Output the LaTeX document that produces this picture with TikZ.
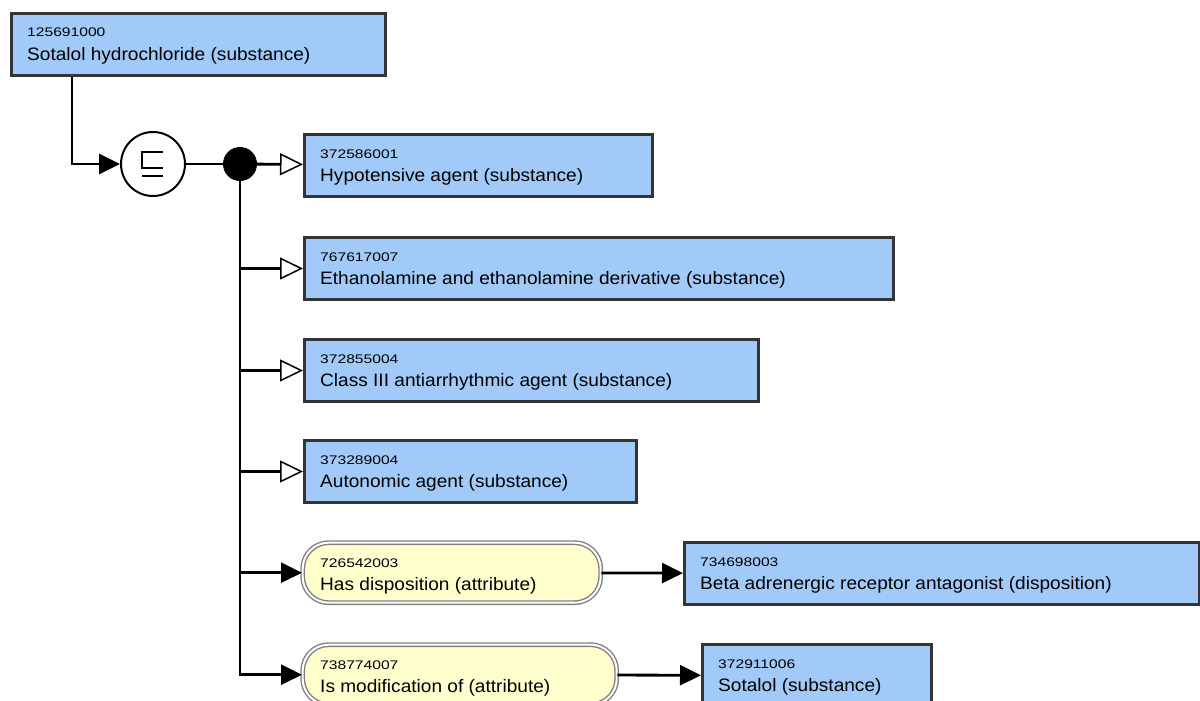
\documentclass[tikz,border=0pt]{standalone}
\usepackage{fontspec}
\setmainfont{Liberation Sans}
\newfontfamily\idfamily[FakeStretch=1.25]{Liberation Sans}
\newfontfamily\namefamily[FakeStretch=1.06]{Liberation Sans}
\usetikzlibrary{arrows.meta,positioning,calc}
\definecolor{ConceptBlue}{RGB}{161,202,248}
\definecolor{AttrYellow}{RGB}{255,255,206}
\definecolor{BoxEdge}{RGB}{52,52,52}
\definecolor{AttrEdge}{RGB}{128,128,128}
\tikzset{
  cbox/.style={rectangle,draw=BoxEdge,line width=3pt,fill=ConceptBlue,
               anchor=north west,minimum height=62pt,inner sep=0pt},
  abox/.style={rectangle,rounded corners=26pt,draw=AttrEdge,line width=1.4pt,
               double=white,double distance=2pt,fill=AttrYellow,
               anchor=north west,minimum height=60pt,inner sep=0pt},
  cid/.style={anchor=base west,inner sep=0pt,xshift=17pt,yshift=-25pt,
              font=\idfamily\fontsize{12.5}{14}\selectfont},
  cname/.style={anchor=base west,inner sep=0pt,xshift=17pt,yshift=-48pt,
                font=\namefamily\fontsize{18}{20}\selectfont},
  link/.style={line width=2.8pt},
  arr/.style={link,-{Triangle[length=21pt,width=20pt]}},
  isa/.style={link,-{Triangle[length=23pt,width=22pt,line width=1.5pt,fill=white]}},
}

\begin{document}
\begin{tikzpicture}[x=1pt,y=-1pt]
  \useasboundingbox (0,0) rectangle (1200,701);
  \clip (0,0) rectangle (1200,701);

  % focus concept
  \node[cbox,minimum width=374pt,
        label={[cid]north west:125691000},
        label={[cname]north west:Sotalol hydrochloride (substance)}] (sotalolhcl) at (10,12) {};

  % definition status and conjunction
  \node[circle,draw,line width=2pt,fill=white,minimum size=64pt,inner sep=0pt] (subs) at (153,164) {};
  \draw[line width=2.2pt] ($(subs)+(10,-12)$) -- ++(-21,0) -- ++(0,16) -- ++(21,0);
  \draw[line width=2.2pt] ($(subs)+(-11,12)$) -- ++(21,0);
  \node[circle,fill=black,minimum size=34pt,inner sep=0pt] (fork) at (240,164) {};

  % parents
  \node[cbox,minimum width=348pt,
        label={[cid]north west:372586001},
        label={[cname]north west:Hypotensive agent (substance)}] (hypo) at (303,133) {};
  \node[cbox,minimum width=589pt,
        label={[cid]north west:767617007},
        label={[cname]north west:Ethanolamine and ethanolamine derivative (substance)}] (ethanol) at (303,236) {};
  \node[cbox,minimum width=454pt,
        label={[cid]north west:372855004},
        label={[cname]north west:Class III antiarrhythmic agent (substance)}] (antiarr) at (303,338) {};
  \node[cbox,minimum width=332pt,
        label={[cid]north west:373289004},
        label={[cname]north west:Autonomic agent (substance)}] (autonomic) at (303,439) {};

  % attributes and values
  \node[abox,minimum width=298pt,
        label={[cid,xshift=1pt]north west:726542003},
        label={[cname,xshift=1pt]north west:Has disposition (attribute)}] (hasdisp) at (302,542) {};
  \node[cbox,minimum width=515pt,
        label={[cid]north west:734698003},
        label={[cname]north west:Beta adrenergic receptor antagonist (disposition)}] (betablock) at (683,541) {};
  \node[abox,minimum width=314pt,
        label={[cid,xshift=1pt]north west:738774007},
        label={[cname,xshift=1pt]north west:Is modification of (attribute)}] (ismod) at (302,644) {};
  \node[cbox,minimum width=229pt,
        label={[cid]north west:372911006},
        label={[cname]north west:Sotalol (substance)}] (sotalol) at (701,643) {};

  % connectors
  \draw[arr] ([xshift=62pt]sotalolhcl.south west) |- (subs);
  \draw[link] (subs) -- (fork);
  \draw[isa] (fork) -- (hypo);
  \draw[isa] (fork) |- (ethanol);
  \draw[isa] (fork) |- (antiarr);
  \draw[isa] (fork) |- (autonomic);
  \draw[arr] (fork) |- (hasdisp);
  \draw[arr] (fork) |- (ismod);
  \draw[arr] (hasdisp) -- (betablock);
  \draw[arr] (ismod) -- (sotalol);
\end{tikzpicture}
\end{document}
